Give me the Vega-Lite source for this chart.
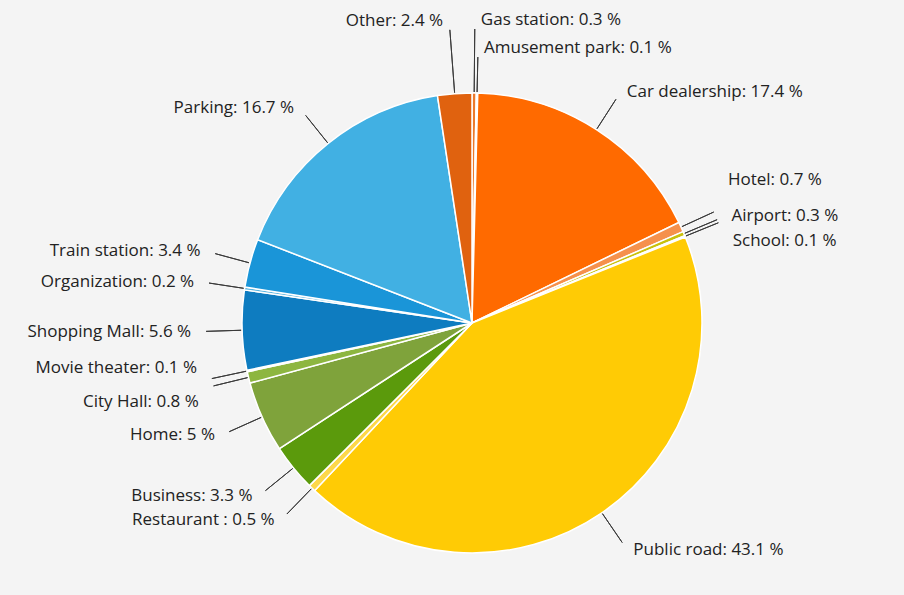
{
  "$schema": "https://vega.github.io/schema/vega-lite/v6.json",
  "width": 864,
  "height": 544,
  "autosize": {"type": "none"},
  "padding": {"left": 40, "top": 51, "right": 0, "bottom": 0},
  "background": "#f4f4f4",
  "config": {"view": {"stroke": null}},
  "data": {
    "values": [
      {"order": 1, "category": "Gas station", "value": 0.3, "label": "Gas station: 0.3 %"},
      {"order": 2, "category": "Amusement park", "value": 0.1, "label": "Amusement park: 0.1 %"},
      {"order": 3, "category": "Car dealership", "value": 17.4, "label": "Car dealership: 17.4 %"},
      {"order": 4, "category": "Hotel", "value": 0.7, "label": "Hotel: 0.7 %"},
      {"order": 5, "category": "Airport", "value": 0.3, "label": "Airport: 0.3 %"},
      {"order": 6, "category": "School", "value": 0.1, "label": "School: 0.1 %"},
      {"order": 7, "category": "Public road", "value": 43.1, "label": "Public road: 43.1 %"},
      {"order": 8, "category": "Restaurant", "value": 0.5, "label": "Restaurant : 0.5 %"},
      {"order": 9, "category": "Business", "value": 3.3, "label": "Business: 3.3 %"},
      {"order": 10, "category": "Home", "value": 5, "label": "Home: 5 %"},
      {"order": 11, "category": "City Hall", "value": 0.8, "label": "City Hall: 0.8 %"},
      {"order": 12, "category": "Movie theater", "value": 0.1, "label": "Movie theater: 0.1 %"},
      {"order": 13, "category": "Shopping Mall", "value": 5.6, "label": "Shopping Mall: 5.6 %"},
      {"order": 14, "category": "Organization", "value": 0.2, "label": "Organization: 0.2 %"},
      {"order": 15, "category": "Train station", "value": 3.4, "label": "Train station: 3.4 %"},
      {"order": 16, "category": "Parking", "value": 16.7, "label": "Parking: 16.7 %"},
      {"order": 17, "category": "Other", "value": 2.4, "label": "Other: 2.4 %"}
    ]
  },
  "encoding": {
    "theta": {"field": "value", "type": "quantitative", "stack": true},
    "order": {"field": "order", "type": "quantitative"}
  },
  "layer": [
    {
      "mark": {"type": "arc", "outerRadius": 230, "stroke": "#ffffff", "strokeWidth": 1.5},
      "encoding": {
        "color": {
          "field": "category",
          "type": "nominal",
          "legend": null,
          "scale": {
            "domain": ["Gas station", "Amusement park", "Car dealership", "Hotel", "Airport", "School", "Public road", "Restaurant", "Business", "Home", "City Hall", "Movie theater", "Shopping Mall", "Organization", "Train station", "Parking", "Other"],
            "range": ["#ec7a2c", "#f59a50", "#ff6a00", "#f5914c", "#c9c10c", "#f3e08a", "#ffcb05", "#fdd84a", "#5b9a0c", "#7fa33b", "#8db640", "#7cba00", "#0e7cc0", "#5ab4e0", "#1a95d8", "#41b0e3", "#e0620f"]
          }
        }
      }
    },
    {
      "mark": {"type": "arc", "filled": false, "innerRadius": 231, "outerRadius": 266, "padAngle": 3.14, "stroke": "#3a3a3a", "strokeWidth": 1},
      "encoding": {
        "strokeOpacity": {"condition": {"test": "datum.category === 'Gas station' || datum.category === 'Other'", "value": 0}, "value": 1}
      }
    },
    {
      "mark": {"type": "arc", "filled": false, "innerRadius": 231, "outerRadius": 294, "padAngle": 3.14, "stroke": "#3a3a3a", "strokeWidth": 1},
      "encoding": {
        "strokeOpacity": {"condition": {"test": "datum.category === 'Gas station' || datum.category === 'Other'", "value": 1}, "value": 0}
      }
    },
    {
      "mark": {"type": "text", "radius": 275, "align": "left", "dx": 6, "font": "Open Sans", "fontSize": 17, "color": "#222222"},
      "encoding": {"text": {"field": "label", "type": "nominal", "condition": {"test": "indexof(['Car dealership','Public road','Airport','Amusement park'], datum.category) < 0", "value": ""}}}
    },
    {
      "mark": {"type": "text", "radius": 275, "align": "left", "dx": 6, "dy": -28, "font": "Open Sans", "fontSize": 17, "color": "#222222"},
      "encoding": {"text": {"field": "label", "type": "nominal", "condition": {"test": "datum.category !== 'Hotel'", "value": ""}}}
    },
    {
      "mark": {"type": "text", "radius": 275, "align": "left", "dx": 6, "dy": 22, "font": "Open Sans", "fontSize": 17, "color": "#222222"},
      "encoding": {"text": {"field": "label", "type": "nominal", "condition": {"test": "datum.category !== 'School'", "value": ""}}}
    },
    {
      "mark": {"type": "text", "radius": 303, "align": "left", "dx": 6, "font": "Open Sans", "fontSize": 17, "color": "#222222"},
      "encoding": {"text": {"field": "label", "type": "nominal", "condition": {"test": "datum.category !== 'Gas station'", "value": ""}}}
    },
    {
      "mark": {"type": "text", "radius": 275, "align": "right", "dx": -6, "font": "Open Sans", "fontSize": 17, "color": "#222222"},
      "encoding": {"text": {"field": "label", "type": "nominal", "condition": {"test": "indexof(['Restaurant','Business','Home','Shopping Mall','Organization','Train station','Parking'], datum.category) < 0", "value": ""}}}
    },
    {
      "mark": {"type": "text", "radius": 275, "align": "right", "dx": -6, "dy": -12, "font": "Open Sans", "fontSize": 17, "color": "#222222"},
      "encoding": {"text": {"field": "label", "type": "nominal", "condition": {"test": "datum.category !== 'Movie theater'", "value": ""}}}
    },
    {
      "mark": {"type": "text", "radius": 275, "align": "right", "dx": -6, "dy": 14, "font": "Open Sans", "fontSize": 17, "color": "#222222"},
      "encoding": {"text": {"field": "label", "type": "nominal", "condition": {"test": "datum.category !== 'City Hall'", "value": ""}}}
    },
    {
      "mark": {"type": "text", "radius": 303, "align": "right", "dx": -6, "font": "Open Sans", "fontSize": 17, "color": "#222222"},
      "encoding": {"text": {"field": "label", "type": "nominal", "condition": {"test": "datum.category !== 'Other'", "value": ""}}}
    }
  ]
}
